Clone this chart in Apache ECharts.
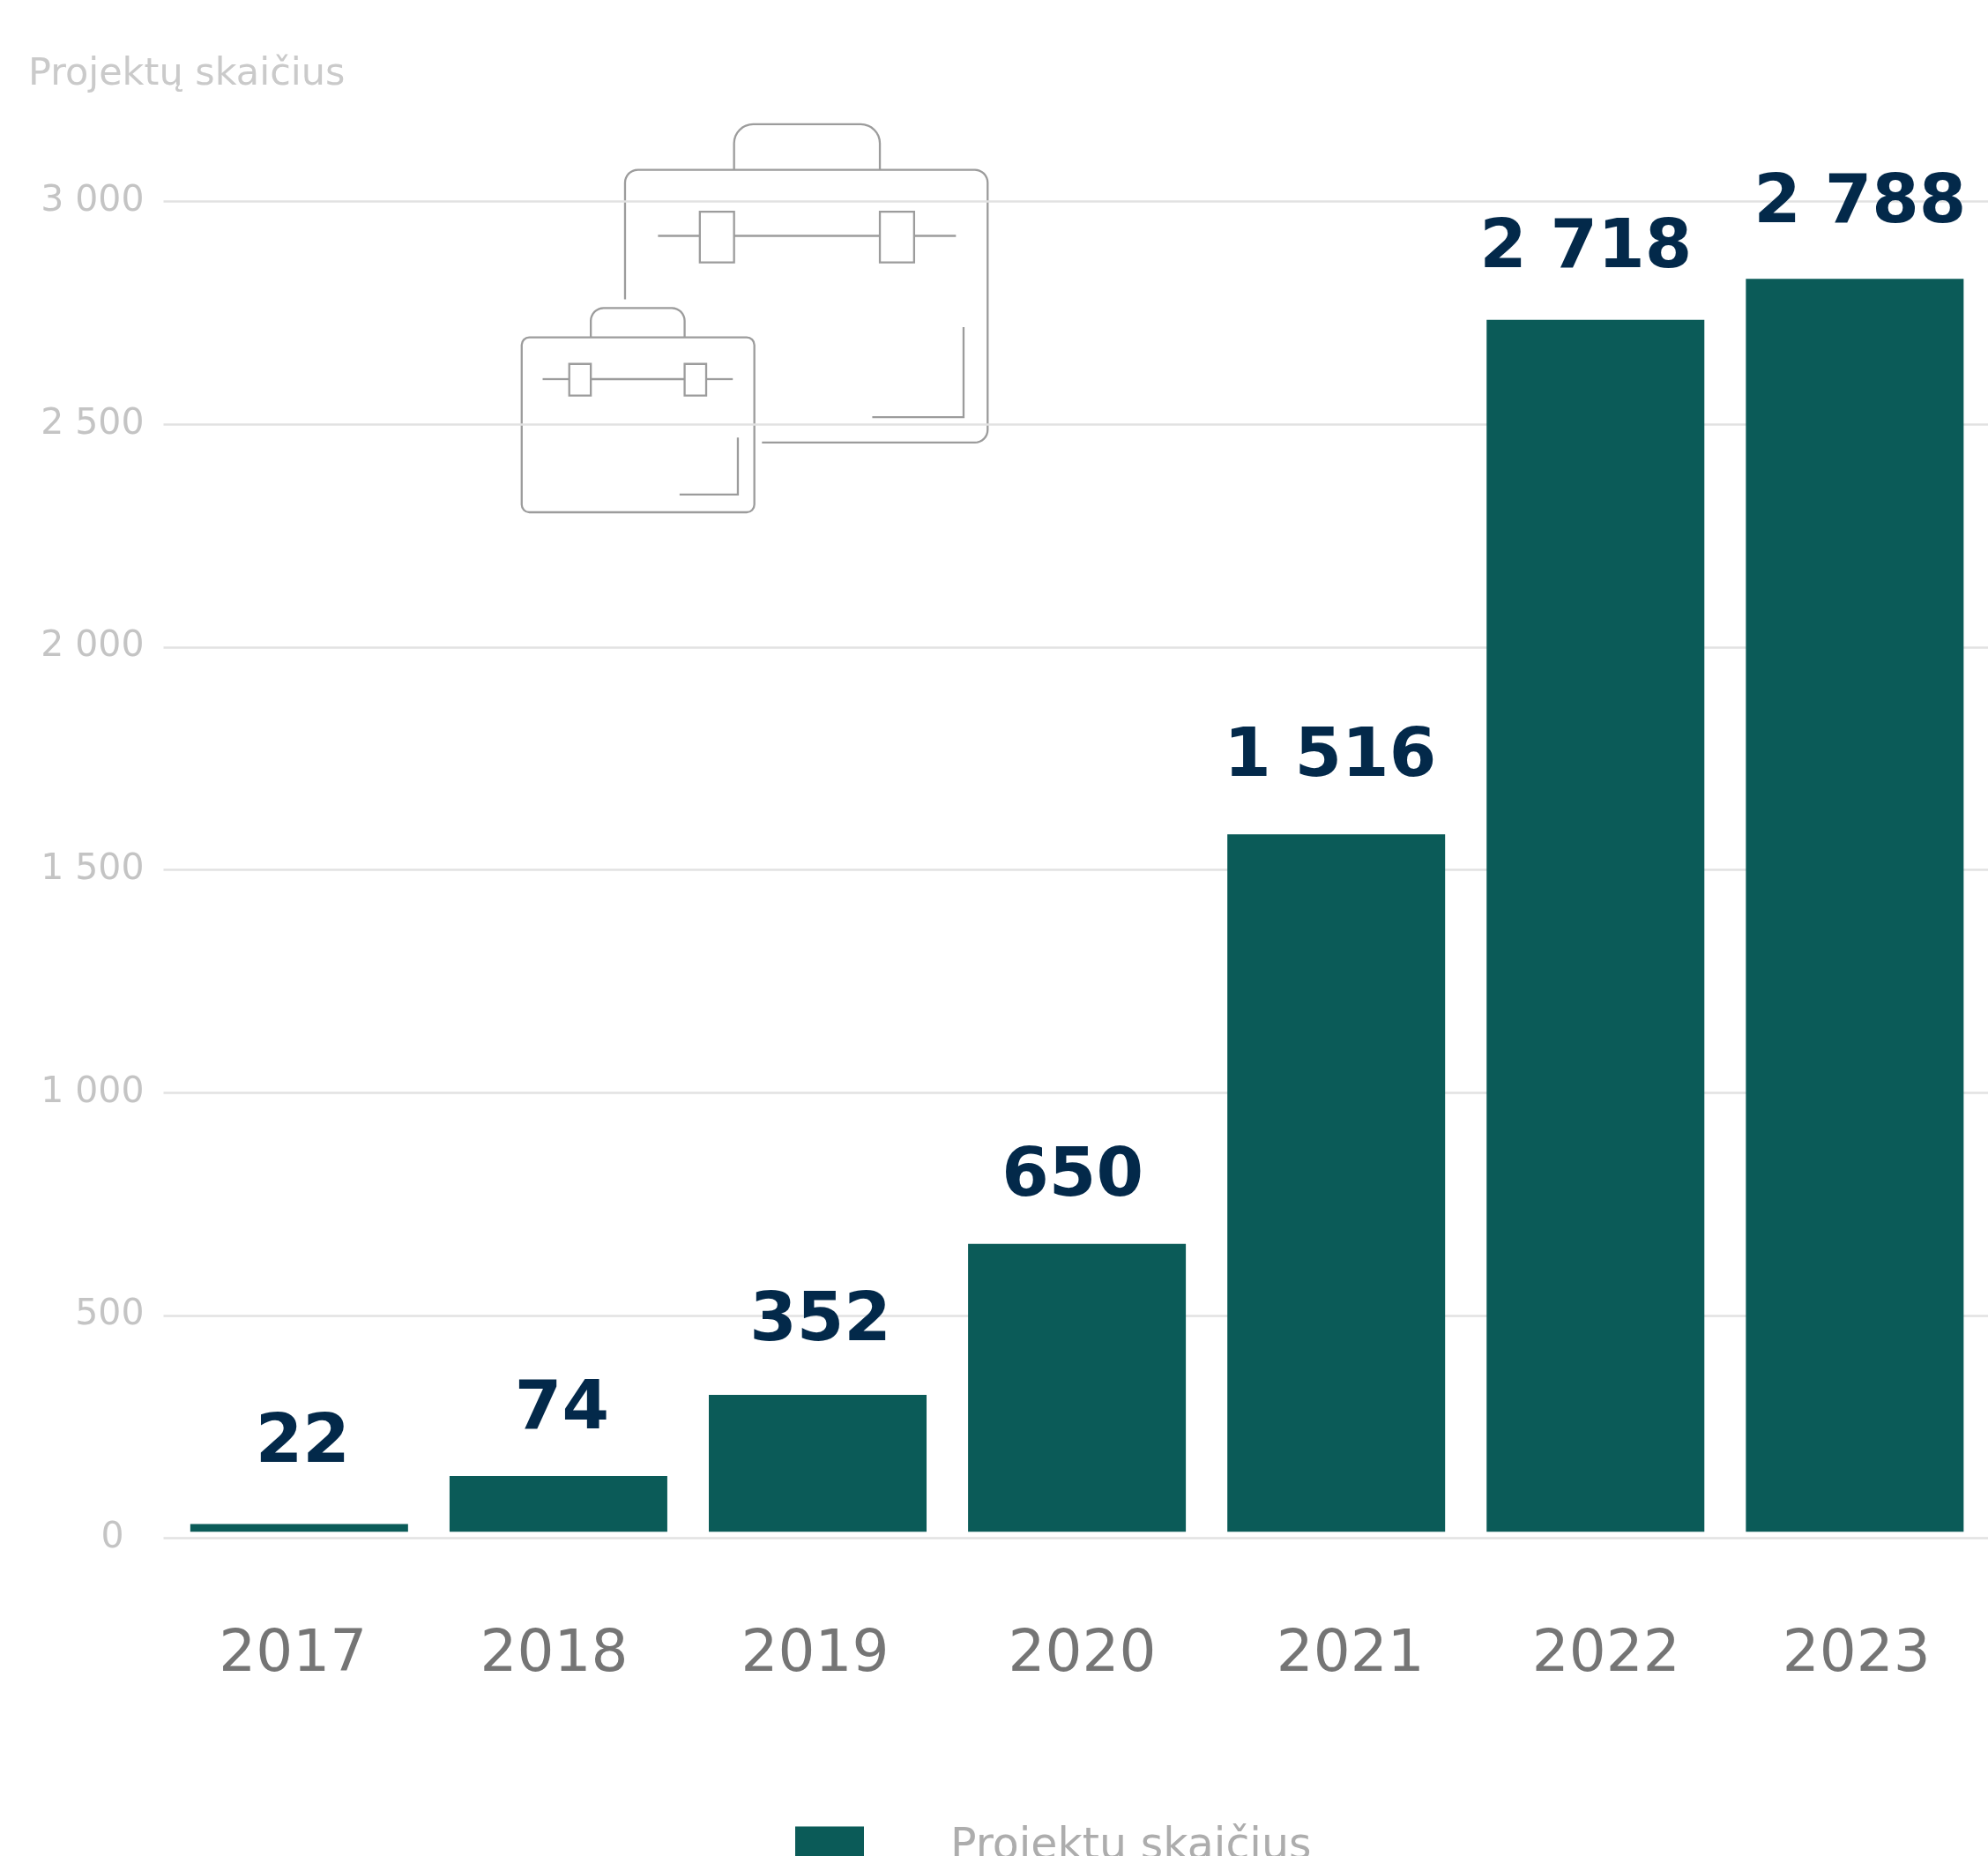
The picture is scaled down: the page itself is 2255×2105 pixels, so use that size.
<!DOCTYPE html>
<html><head><meta charset="utf-8">
<style>html,body{margin:0;padding:0;background:#fff;overflow:hidden}#c{width:2255px;height:2105px}</style>
<script src="https://cdn.jsdelivr.net/npm/echarts@6/dist/echarts.min.js"></script>
</head><body><div id="c"></div>
<script>
const years = ['2017','2018','2019','2020','2021','2022','2023'];
const barValues = [17, 125, 307, 646, 1565, 2720, 2812];
const barLabels = ['22','74','352','650','1 516','2 718','2 788'];
const yTicks = {0:'0',500:'500',1000:'1 000',1500:'1 500',2000:'2 000',2500:'2 500',3000:'3 000'};
const seriesName = 'Projektų skaičius';
const axisTitle = 'Projektų skaičius';

const labelShift = [[4,-32],[4,-16],[3,-24],[-5,-16],[-7,-28],[-11,-21],[6,-26]];
const yearShift = [-7,-5,-3,6,16,12,2];
const FONT = '"DejaVu Sans"';

const chart = echarts.init(document.getElementById('c'), null, {renderer:'canvas'});
const line = {stroke:'#9c9c9c', fill:'none', lineWidth:1.6};
// open outline with rounded corners, in display units of the icon group
function outline(pts, r){
  const out=[pts[0]];
  for(let i=1;i<pts.length-1;i++){
    const [a,b,c]=[pts[i-1],pts[i],pts[i+1]];
    const u=[Math.sign(a[0]-b[0]),Math.sign(a[1]-b[1])], v=[Math.sign(c[0]-b[0]),Math.sign(c[1]-b[1])];
    for(let k=0;k<=8;k++){
      const t=k/8*Math.PI/2;
      out.push([b[0]+u[0]*r*(1-Math.sin(t))+v[0]*r*(1-Math.cos(t)), b[1]+u[1]*r*(1-Math.sin(t))+v[1]*r*(1-Math.cos(t))]);
    }
  }
  out.push(pts[pts.length-1]);
  return {type:'polyline',shape:{points:out},style:line,silent:true};
}
function seg(pts){ return {type:'polyline',shape:{points:pts},style:line,silent:true}; }
function box(x,y,w,h,r){ return {type:'rect',shape:{x,y,width:w,height:h,r:r||0},style:line,silent:true}; }
chart.setOption({
  animation:false,
  backgroundColor:'#fff',
  title:{text:axisTitle,left:27,top:58,textStyle:{fontFamily:FONT,fontWeight:400,fontSize:43,color:'#cacaca'}},
  legend:{left:902,top:2071,padding:0,itemWidth:78,itemHeight:48,itemGap:0,icon:'rect',selectedMode:false,
    data:[seriesName],
    textStyle:{fontFamily:FONT,fontWeight:400,fontSize:49,color:'#adadad',padding:[0,0,29,93]}},
  grid:[
    {left:185.5,right:0,top:228.5,height:1516},
    {left:192.3,width:2058.6,top:221.2,height:1516}
  ],
  xAxis:[
    {gridIndex:0,type:'category',data:years,show:false},
    {gridIndex:1,type:'category',data:years.map((y,i)=>({value:y,textStyle:{
        padding:yearShift[i]>0?[0,0,0,2*yearShift[i]]:[0,-2*yearShift[i],0,0]}})),
     axisLine:{show:false},axisTick:{show:false},
     axisLabel:{fontFamily:FONT,fontSize:66,fontWeight:400,color:'#757575',margin:108,interval:0}}
  ],
  yAxis:[
    {gridIndex:0,type:'value',min:0,max:3000,interval:500,
     axisLine:{show:false},axisTick:{show:false},
     splitLine:{show:true,lineStyle:{color:'#e2e2e2',width:2.5}},
     axisLabel:{margin:22,fontFamily:FONT,fontWeight:400,fontSize:41,color:'#c4c4c4',
       formatter:v=>v===0?'{z|0}':yTicks[v],
       rich:{z:{fontFamily:FONT,fontWeight:400,fontSize:41,color:'#c4c4c4',padding:[0,23,0,0]}}}},
    {gridIndex:1,type:'value',min:0,max:3000,interval:500,show:false,splitLine:{show:false}}
  ],
  series:[{
    name:seriesName,type:'bar',xAxisIndex:1,yAxisIndex:1,barWidth:247,
    itemStyle:{color:'#0b5b58'},
    data:barValues.map((v,i)=>({value:v,label:{formatter:barLabels[i],offset:labelShift[i]}})),
    label:{show:true,position:'top',distance:20,fontFamily:FONT,fontWeight:700,fontSize:77,color:'#03294a'}
  }],
  graphic:[{type:'group',x:0,y:0,scaleX:1.4381,scaleY:1.4381,silent:true,children:[
    outline([[493,236],[493,134],[779,134],[779,349],[601,349]],10),
    outline([[579,134],[579,98],[694,98],[694,134]],15),
    seg([[519,186],[552,186]]),seg([[579,186],[694,186]]),seg([[721,186],[754,186]]),
    box(552,167,27,40),box(694,167,27,40),
    seg([[760,258],[760,329],[688,329]]),
    box(411.5,266,183.5,138,6),
    outline([[466,266],[466,243],[540,243],[540,266]],10),
    seg([[428,299],[449,299]]),seg([[466,299],[540,299]]),seg([[557,299],[578,299]]),
    box(449,287,17,25),box(540,287,17,25),
    seg([[582,345],[582,390],[536,390]])
  ]}]
});
</script></body></html>
